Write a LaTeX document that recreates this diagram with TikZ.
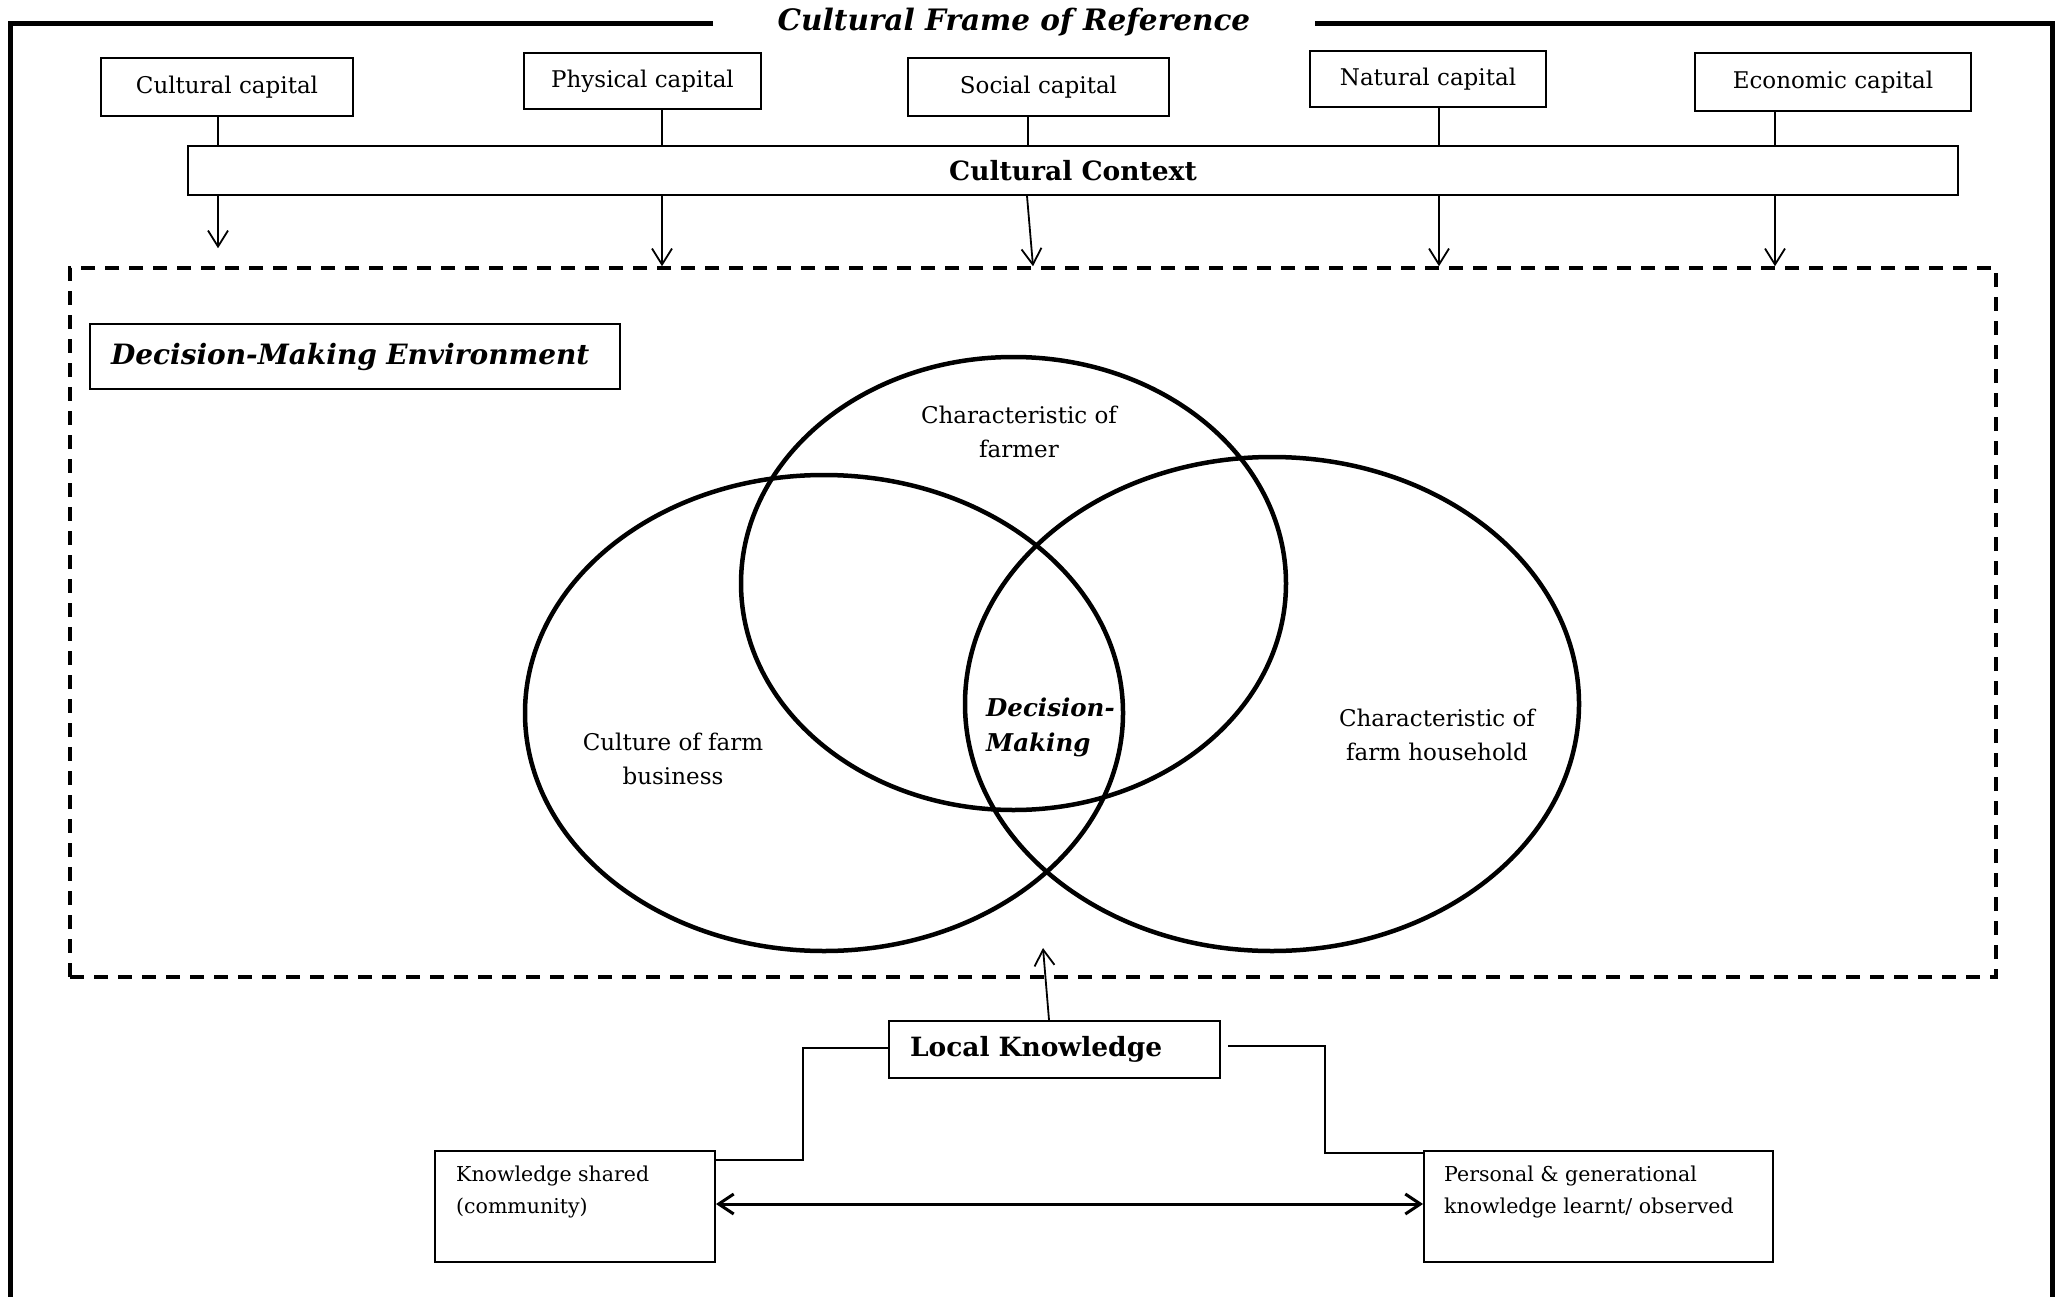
\documentclass[tikz,border=0pt]{standalone}
\usepackage{fontspec}
\setmainfont{DejaVu Serif}
\usetikzlibrary{arrows.meta,shapes.geometric}

\newcommand{\fsz}[2]{\fontsize{#1}{#2}\selectfont}

\begin{document}
\begin{tikzpicture}[x=1pt,y=-1pt,
  frame/.style={line width=5pt},
  plainbox/.style={draw, line width=2pt, inner sep=0pt},
  capbox/.style={plainbox, font=\fsz{23}{28}},
  conn/.style={line width=1.8pt},
  arr/.style={conn, -{Straight Barb[length=16pt,width=20pt]}},
  dblarr/.style={line width=3pt, {Straight Barb[length=15pt,width=20pt]}-{Straight Barb[length=15pt,width=20pt]}},
  envbox/.style={draw, line width=3.5pt, dash pattern=on 14pt off 10pt, inner sep=0pt},
  venn/.style={draw, ellipse, line width=4.5pt, inner sep=0pt},
  lbl/.style={inner sep=0pt, align=center, font=\fsz{23}{34.5}},
  small/.style={inner sep=0pt, align=left, font=\fsz{20.5}{32}}
]
\useasboundingbox (0,0) rectangle (2060,1297);

% outer frame with its title
\node[inner sep=0pt, font=\fsz{29.5}{35}\bfseries\itshape] (frametitle) at (1014,22) {Cultural Frame of Reference};
\coordinate (fl) at (713,24);
\coordinate (fr) at (1315,24);
\draw[frame] (fl) -- (10,24) -- (10,1320);
\draw[frame] (fr) -- (2052,24) -- (2052,1320);

% the five capitals
\node[capbox, minimum width=252pt, minimum height=58pt] (cultcap) at (227,87) {Cultural capital};
\node[capbox, minimum width=237pt, minimum height=56pt] (physcap) at (642.5,81) {Physical capital};
\node[capbox, minimum width=261pt, minimum height=58pt] (soccap) at (1038.5,87) {Social capital};
\node[capbox, minimum width=236pt, minimum height=56pt] (natcap) at (1428,79) {Natural capital};
\node[capbox, minimum width=276pt, minimum height=58pt] (ecocap) at (1833,82) {Economic capital};

% cultural context bar
\node[plainbox, minimum width=1770pt, minimum height=49pt, font=\fsz{26.5}{32}\bfseries] (context) at (1073,170.5) {Cultural Context};

% decision-making environment (dashed)
\node[envbox, minimum width=1926pt, minimum height=709pt] (env) at (1033,622.5) {};
\node[plainbox, anchor=north west, minimum height=65pt, text width=488pt, inner xsep=21pt, align=left,
      font=\fsz{28}{34}\bfseries\itshape] (envtitle) at (89,323) {Decision-Making Environment};

% capitals feed the context bar
\draw[conn] (cultcap.south -| 218,0) -- (context.north -| 218,0);
\draw[conn] (physcap.south -| 662,0) -- (context.north -| 662,0);
\draw[conn] (soccap.south -| 1028,0) -- (context.north -| 1028,0);
\draw[conn] (natcap.south -| 1439,0) -- (context.north -| 1439,0);
\draw[conn] (ecocap.south -| 1775,0) -- (context.north -| 1775,0);

% context bar points into the environment
\draw[arr, shorten >=18pt] (context.south -| 218,0) -- (env.north -| 218,0);
\draw[arr] (context.south -| 662,0) -- (env.north -| 662,0);
\draw[arr] (context.south -| 1027,0) -- (env.north -| 1033,0);
\draw[arr] (context.south -| 1439,0) -- (env.north -| 1439,0);
\draw[arr] (context.south -| 1775,0) -- (env.north -| 1775,0);

% three overlapping spheres
\node[venn, minimum width=545pt, minimum height=453pt] (farmer) at (1013.5,583.5) {};
\node[venn, minimum width=598pt, minimum height=476pt] (business) at (824,713) {};
\node[venn, minimum width=614pt, minimum height=494pt] (household) at (1272,704) {};

\node[lbl] (farmertxt) at (1019,432) {Characteristic of\\farmer};
\node[lbl] (businesstxt) at (673,759) {Culture of farm\\business};
\node[lbl] (householdtxt) at (1437,735) {Characteristic of\\farm household};
\node[lbl, anchor=west, align=left, font=\fsz{24.5}{35}\bfseries\itshape] (dmtxt) at (986,727) {Decision-\\Making};

% local knowledge and its sources
\node[plainbox, anchor=north west, minimum height=57pt, text width=289pt, inner xsep=21pt, align=left,
      font=\fsz{26.5}{32}\bfseries] (lk) at (888,1020) {Local Knowledge};
\node[plainbox, anchor=north west, minimum width=280pt, minimum height=111pt] (kshared) at (434,1150) {};
\node[plainbox, anchor=north west, minimum width=349pt, minimum height=111pt] (pers) at (1423,1150) {};
\node[small, anchor=west] (ksharedtxt) at (456,1192) {Knowledge shared\\(community)};
\node[small, anchor=west] (perstxt) at (1444,1192) {Personal \& generational\\knowledge learnt/ observed};

\coordinate (lktip) at (1043,948);
\draw[arr] (lk.north -| 1049,0) -- (lktip);

\coordinate (kl) at (803,1160);
\coordinate (kr) at (1325,1153);
\draw[conn] ([yshift=1.5pt]lk.west) -| (kl) -- (kshared.east |- kl);
\draw[conn] ([xshift=7pt,yshift=3.5pt]lk.east) -| (kr) -- (pers.west |- kr);
\draw[dblarr] (kshared.east |- 0,1204) -- (pers.west |- 0,1204);
\end{tikzpicture}
\end{document}
